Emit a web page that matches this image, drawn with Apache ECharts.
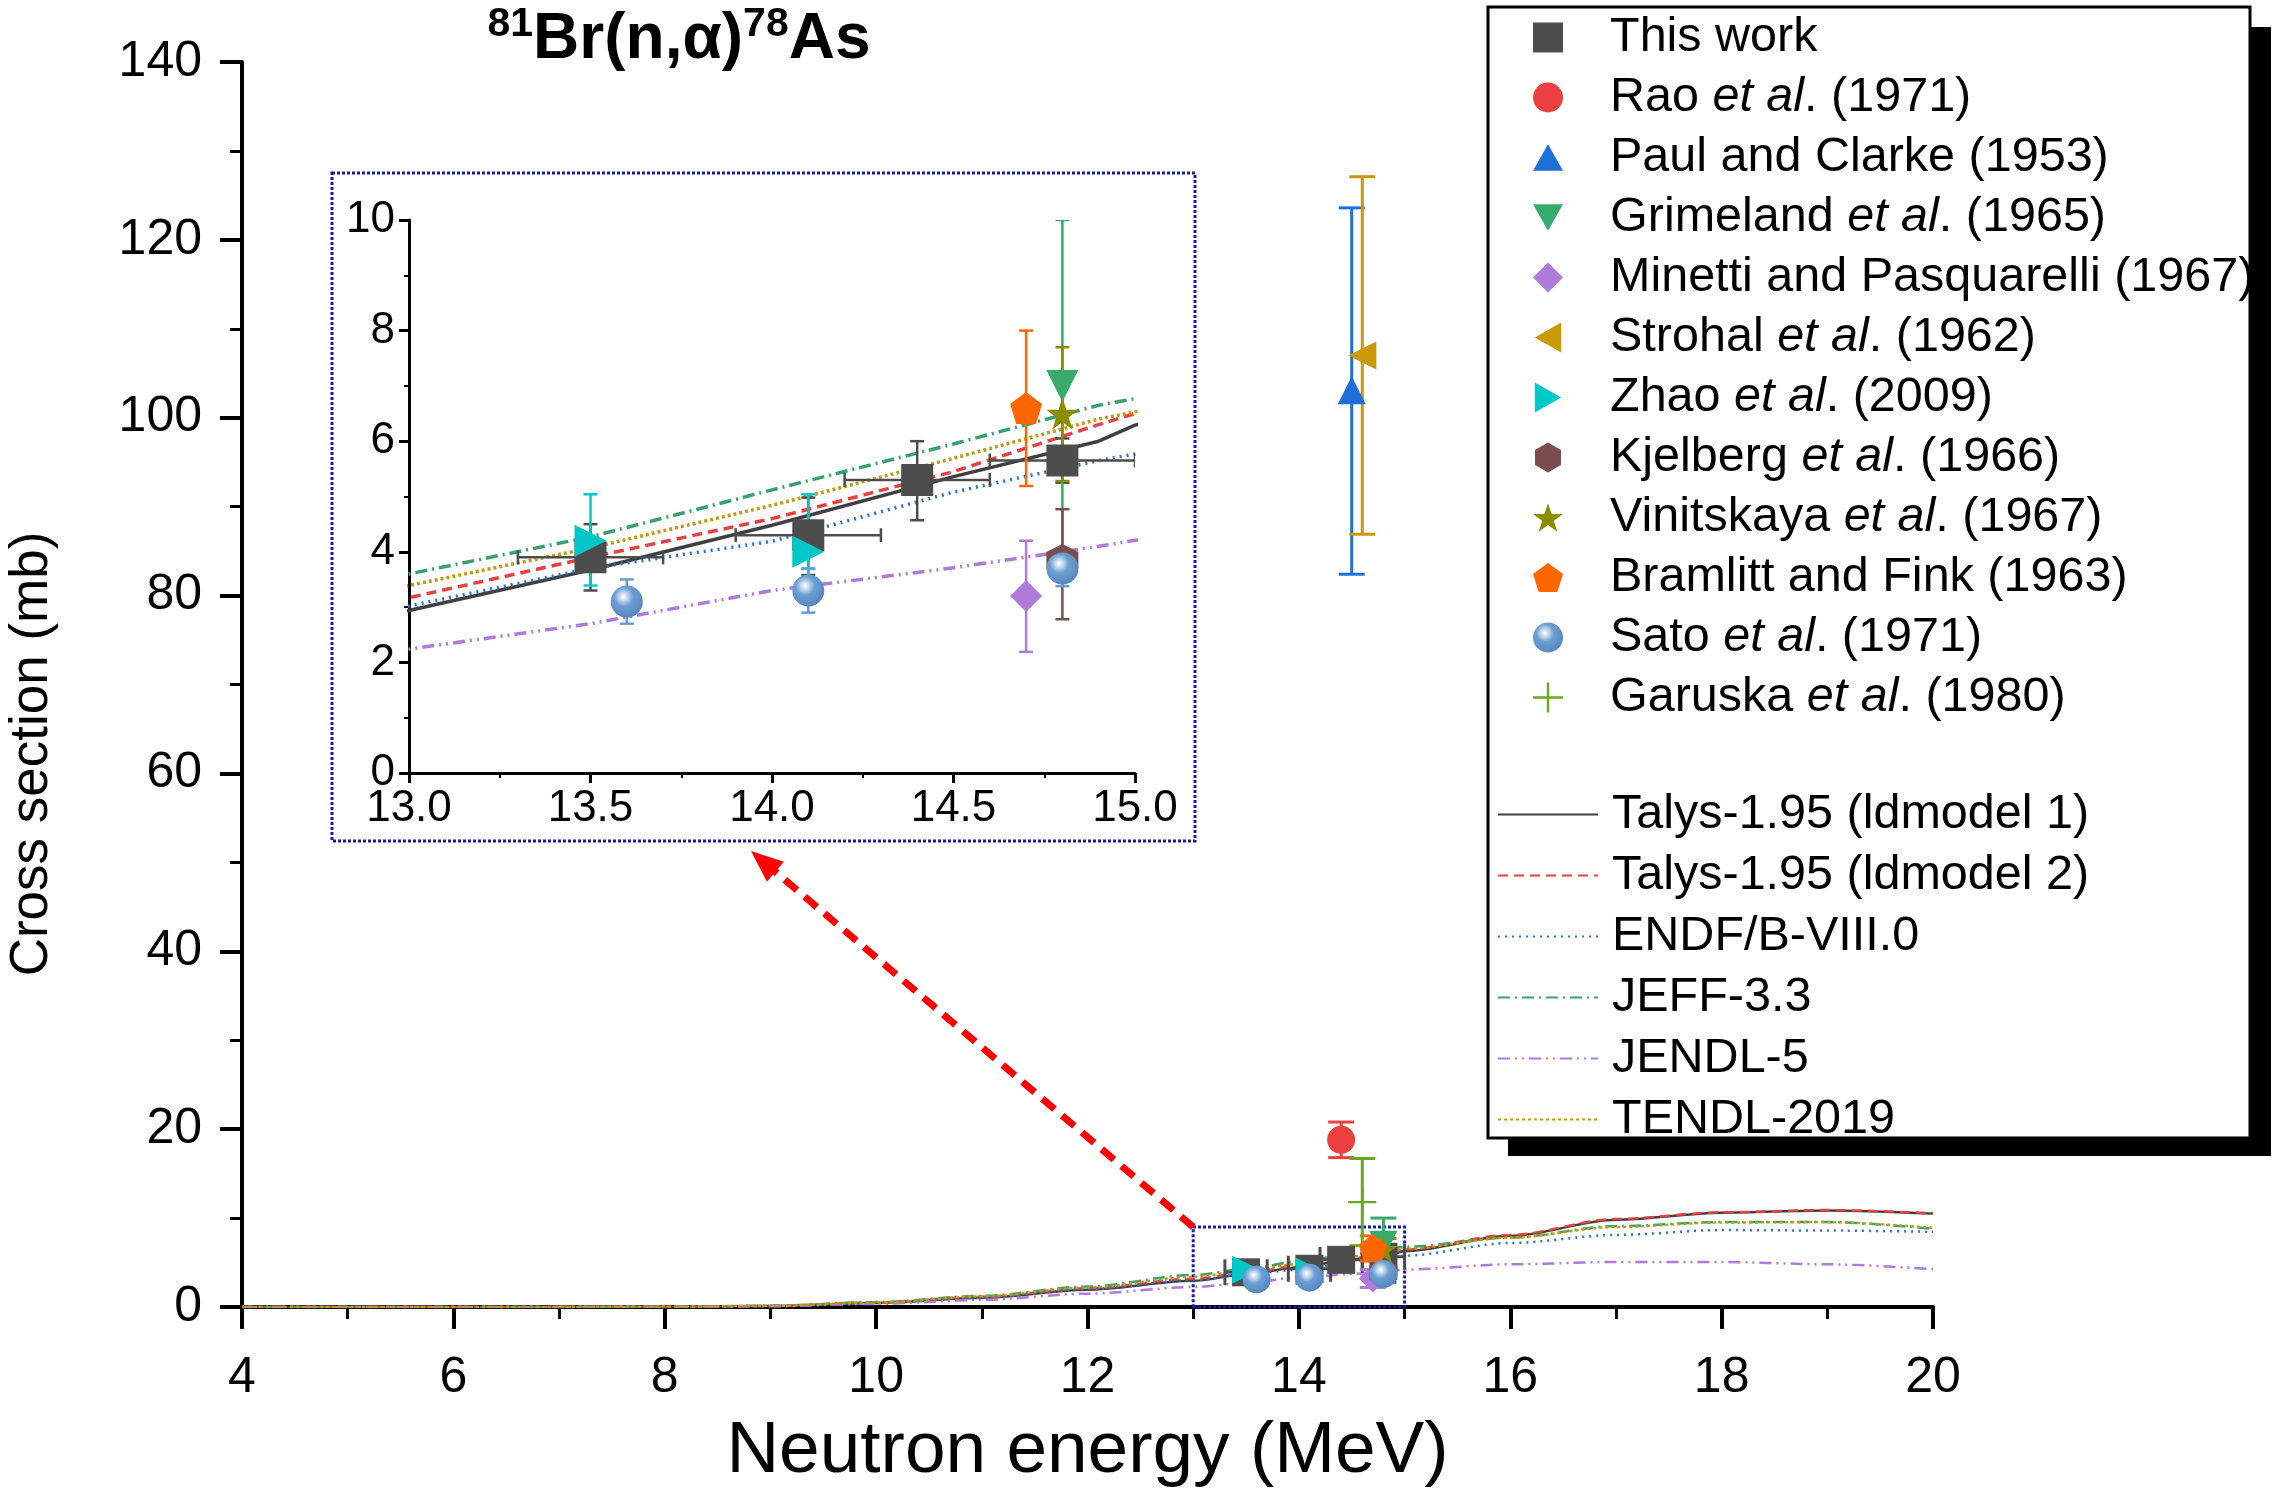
<!DOCTYPE html>
<html>
<head>
<meta charset="utf-8">
<title>81Br(n,a)78As</title>
<script src="https://cdn.jsdelivr.net/npm/echarts@6/dist/echarts.min.js"></script>
<style>
  html, body { margin: 0; padding: 0; background: #fff; }
  #main { width: 2274px; height: 1495px; }
</style>
</head>
<body>
<div id="main"></div>
<script>
// evaluated curves (mb) on a common energy grid (MeV)
var energy = [4, 6, 8, 9, 10, 11, 12, 13, 13.5, 14, 14.5, 14.9, 15, 16, 17, 18, 19, 20];
var talys1 = [0, 0, 0.02, 0.1, 0.45, 1.05, 1.95, 2.94, 3.67, 4.48, 5.36, 6.0, 6.29, 8.0, 9.8, 10.6, 10.85, 10.5];
var talys2 = [0, 0, 0.02, 0.12, 0.5, 1.15, 2.1, 3.17, 3.9, 4.6, 5.45, 6.3, 6.5, 8.1, 9.9, 10.65, 10.9, 10.55];
var endf = [0, 0, 0.02, 0.1, 0.45, 1.05, 2.0, 3.02, 3.7, 4.19, 5.08, 5.65, 5.77, 7.2, 8.1, 8.65, 8.6, 8.45];
var jeff = [0, 0, 0.03, 0.15, 0.55, 1.25, 2.3, 3.6, 4.27, 5.12, 5.95, 6.65, 6.77, 7.8, 9.1, 9.55, 9.55, 8.8];
var jendl = [0, 0, 0.02, 0.08, 0.35, 0.8, 1.5, 2.24, 2.7, 3.3, 3.71, 4.1, 4.21, 4.8, 5.07, 5.07, 4.8, 4.26];
var tendl = [0, 0, 0.03, 0.13, 0.5, 1.2, 2.2, 3.39, 4.07, 4.84, 5.69, 6.4, 6.53, 7.8, 9.0, 9.5, 9.55, 8.9];

// measured points: energy, cross section, error low/high
var workE = [13.5, 14.1, 14.4, 14.8];
var workXS = [3.9, 4.3, 5.3, 5.65];
var workLow = [3.3, 3.58, 4.57, 5.25];
var workHigh = [4.5, 4.98, 6.0, 6.05];
var workELow = [13.3, 13.9, 14.2, 14.6];
var workEHigh = [13.7, 14.3, 14.6, 15.0];

var raoE = [14.4], raoXS = [18.8], raoLow = [16.8], raoHigh = [20.8];
var paulE = [14.5], paulXS = [103.1], paulLow = [82.4], paulHigh = [123.6];
var grimE = [14.8], grimXS = [7.0], grimLow = [4.0], grimHigh = [10.0];
var minettiE = [14.7], minettiXS = [3.2], minettiLow = [2.19], minettiHigh = [4.2];
var strohalE = [14.6], strohalXS = [107], strohalLow = [86.9], strohalHigh = [127.1];
var zhaoE = [13.5, 14.1], zhaoXS = [4.2, 4.0], zhaoLow = [3.39, 3.69], zhaoHigh = [5.04, 5.04];
var kjelE = [14.8], kjelXS = [3.85], kjelLow = [2.78], kjelHigh = [4.77];
var viniE = [14.8], viniXS = [6.5], viniLow = [5.28], viniHigh = [7.7];
var bramE = [14.7], bramXS = [6.6], bramLow = [5.19], bramHigh = [8.0];
var satoE = [13.6, 14.1, 14.8], satoXS = [3.1, 3.3, 3.7], satoLow = [2.7, 2.9, 3.38], satoHigh = [3.5, 3.7, 3.98];
var garE = [14.6], garXS = [11.8], garLow = [6.9], garHigh = [16.7];

var font = 'Liberation Sans, Arial, sans-serif';
var chart = echarts.init(document.getElementById('main'));

var sphere = new echarts.graphic.RadialGradient(0.4, 0.35, 0.65, [
	{ offset: 0, color: '#ffffff' },
	{ offset: 0.2, color: '#c4d8ee' },
	{ offset: 0.45, color: '#6e9fd3' },
	{ offset: 1, color: '#5688c0' }
]);

// marker shapes
var triUp = 'path://M50,0 L100,88 L0,88 Z';
var triDown = 'path://M0,0 L100,0 L50,88 Z';
var triLeft = 'path://M0,50 L88,0 L88,100 Z';
var triRight = 'path://M0,0 L88,50 L0,100 Z';
var hexagon = 'path://M50,0 L93.3,25 L93.3,75 L50,100 L6.7,75 L6.7,25 Z';
var star = 'path://M50,0 L61.8,35.1 L98.1,35.1 L68.8,56.7 L79.9,91.9 L50,70 L20.1,91.9 L31.2,56.7 L1.9,35.1 L38.2,35.1 Z';
var pentagon = 'path://M50,0 L97.6,34.5 L79.4,92 L20.6,92 L2.4,34.5 Z';
var plus = 'path://M46,0 L54,0 L54,46 L100,46 L100,54 L54,54 L54,100 L46,100 L46,54 L0,54 L0,46 L46,46 Z';

var points = [
	{ name: 'This work', e: workE, xs: workXS, lo: workLow, hi: workHigh, elo: workELow, ehi: workEHigh, color: '#4d4d4d', symbol: 'rect' },
	{ name: 'Rao et al. (1971)', e: raoE, xs: raoXS, lo: raoLow, hi: raoHigh, color: '#ec4040', symbol: 'circle' },
	{ name: 'Paul and Clarke (1953)', e: paulE, xs: paulXS, lo: paulLow, hi: paulHigh, color: '#1f6fdb', symbol: triUp },
	{ name: 'Grimeland et al. (1965)', e: grimE, xs: grimXS, lo: grimLow, hi: grimHigh, color: '#37ab6b', symbol: triDown },
	{ name: 'Minetti and Pasquarelli (1967)', e: minettiE, xs: minettiXS, lo: minettiLow, hi: minettiHigh, color: '#b07ad9', symbol: 'diamond' },
	{ name: 'Strohal et al. (1962)', e: strohalE, xs: strohalXS, lo: strohalLow, hi: strohalHigh, color: '#c99a06', symbol: triLeft },
	{ name: 'Zhao et al. (2009)', e: zhaoE, xs: zhaoXS, lo: zhaoLow, hi: zhaoHigh, color: '#00c8c8', symbol: triRight },
	{ name: 'Kjelberg et al. (1966)', e: kjelE, xs: kjelXS, lo: kjelLow, hi: kjelHigh, color: '#7b4e4e', symbol: hexagon },
	{ name: 'Vinitskaya et al. (1967)', e: viniE, xs: viniXS, lo: viniLow, hi: viniHigh, color: '#8c8c00', symbol: star },
	{ name: 'Bramlitt and Fink (1963)', e: bramE, xs: bramXS, lo: bramLow, hi: bramHigh, color: '#ff6600', symbol: pentagon },
	{ name: 'Sato et al. (1971)', e: satoE, xs: satoXS, lo: satoLow, hi: satoHigh, color: sphere, bar: '#6a9bd0', symbol: 'circle' },
	{ name: 'Garuska et al. (1980)', e: garE, xs: garXS, lo: garLow, hi: garHigh, color: '#6aa81c', symbol: plus }
];

var curves = [
	{ name: 'Talys-1.95 (ldmodel 1)', data: talys1, color: '#404040', type: 'solid' },
	{ name: 'Talys-1.95 (ldmodel 2)', data: talys2, color: '#e8413f', type: [10, 6] },
	{ name: 'ENDF/B-VIII.0', data: endf, color: '#2b6fd6', type: [2, 5] },
	{ name: 'JEFF-3.3', data: jeff, color: '#37a36a', type: [12, 5, 2, 5] },
	{ name: 'JENDL-5', data: jendl, color: '#b07ad9', type: [12, 5, 2, 5, 2, 5] },
	{ name: 'TENDL-2019', data: tendl, color: '#c49a10', type: [3, 3] }
];

function errItem(cap, lw) {
	return function (params, api) {
		var x = api.value(0), lo = api.value(1), hi = api.value(2);
		var elo = api.value(3), ehi = api.value(4), y = api.value(5);
		var c = api.visual('color');
		var st = { stroke: c, lineWidth: lw };
		var a = api.coord([x, lo]), b = api.coord([x, hi]);
		var kids = [
			{ type: 'line', shape: { x1: a[0], y1: a[1], x2: b[0], y2: b[1] }, style: st },
			{ type: 'line', shape: { x1: a[0] - cap, y1: a[1], x2: a[0] + cap, y2: a[1] }, style: st },
			{ type: 'line', shape: { x1: b[0] - cap, y1: b[1], x2: b[0] + cap, y2: b[1] }, style: st }
		];
		if (ehi > elo) {
			var l = api.coord([elo, y]), r = api.coord([ehi, y]);
			kids.push({ type: 'line', shape: { x1: l[0], y1: l[1], x2: r[0], y2: r[1] }, style: st });
			kids.push({ type: 'line', shape: { x1: l[0], y1: l[1] - cap, x2: l[0], y2: l[1] + cap }, style: st });
			kids.push({ type: 'line', shape: { x1: r[0], y1: r[1] - cap, x2: r[0], y2: r[1] + cap }, style: st });
		}
		return { type: 'group', children: kids };
	};
}

var series = [];
// main panel and inset panel
[0, 1].forEach(function (g) {
	curves.forEach(function (c) {
		series.push({
			name: c.name, type: 'line', xAxisIndex: g, yAxisIndex: g,
			data: energy.map(function (e, i) { return [e, c.data[i]]; }),
			showSymbol: false, symbol: 'none', smooth: g === 0 ? 0.3 : false, smoothMonotone: 'x',
			lineStyle: { color: c.color, width: g === 0 ? 2.5 : 3.5, type: c.type },
			itemStyle: { color: c.color }, z: 2, silent: true
		});
	});
});
[0, 1].forEach(function (g) {
	points.forEach(function (p) {
		var idx = p.e.map(function (e, i) { return i; }).filter(function (i) {
			return g === 0 || (p.xs[i] <= 10 && p.lo[i] >= 0 && p.hi[i] <= 10.01);
		});
		if (!idx.length) return;
		series.push({
			name: p.name, type: 'scatter', xAxisIndex: g, yAxisIndex: g,
			data: idx.map(function (i) { return [p.e[i], p.xs[i]]; }),
			symbol: p.symbol, symbolSize: g === 0 ? 28 : 32,
			itemStyle: { color: p.color, opacity: 1 }, z: 5, silent: true
		});
		series.push({
			type: 'custom', xAxisIndex: g, yAxisIndex: g, clip: g === 1,
			renderItem: errItem(g === 0 ? 13 : 7, g === 0 ? 3 : 2.5),
			itemStyle: { color: p.bar || p.color },
			encode: { x: 0, y: [1, 2] },
			data: idx.map(function (i) {
				return [p.e[i], p.lo[i], p.hi[i], p.elo ? p.elo[i] : 0, p.ehi ? p.ehi[i] : 0, p.xs[i]];
			}),
			z: 4, silent: true
		});
	});
});
// zoom box in the main panel
series[0].markArea = {
	silent: true,
	itemStyle: { color: 'rgba(0,0,0,0)', borderColor: '#1a1aa8', borderWidth: 3, borderType: [3, 2] },
	data: [[{ coord: [13, 0] }, { coord: [15, 9] }]]
};

function legendFmt(name) {
	var k = name.indexOf('et al');
	if (k < 0) return '{n|' + name + '}';
	return '{n|' + name.slice(0, k) + '}{i|et al}{n|' + name.slice(k + 5) + '}';
}
function legText(padLeft) {
	return {
		color: '#000', fontFamily: font, fontSize: 48.5, padding: [0, 0, 0, padLeft],
		rich: {
			n: { fontFamily: font, fontSize: 48.5, color: '#000' },
			i: { fontFamily: font, fontSize: 48.5, color: '#000', fontStyle: 'italic' }
		}
	};
}

var axisBase = {
	type: 'value',
	axisLine: { show: true, onZero: false, lineStyle: { color: '#000', width: 4 } },
	axisTick: { show: true, length: 22, lineStyle: { color: '#000', width: 4 } },
	minorTick: { show: true, splitNumber: 2, length: 12, lineStyle: { color: '#000', width: 3 } },
	splitLine: { show: false },
	axisLabel: { color: '#000', fontFamily: font, fontSize: 50 }
};
function ax(extra) { return Object.assign({}, JSON.parse(JSON.stringify(axisBase)), extra); }
var insetLine = { show: true, onZero: false, lineStyle: { color: '#000', width: 3 } };
var insetTick = { show: true, length: 10, lineStyle: { color: '#000', width: 3 } };
var insetMinor = { show: true, splitNumber: 2, length: 5, lineStyle: { color: '#000', width: 2 } };

var option = {
	backgroundColor: '#fff',
	animation: false,
	grid: [
		{ left: 242, top: 62, width: 1691, height: 1245 },
		{ left: 409, top: 220, width: 726, height: 553 }
	],
	xAxis: [
		ax({ gridIndex: 0, min: 4, max: 20, interval: 2,
			axisLabel: { color: '#000', fontFamily: font, fontSize: 50, margin: 46 },
			name: 'Neutron energy (MeV)', nameLocation: 'middle', nameGap: 108,
			nameTextStyle: { color: '#000', fontFamily: font, fontSize: 73 } }),
		ax({ gridIndex: 1, min: 13, max: 15, interval: 0.5,
			axisLine: insetLine, axisTick: insetTick, minorTick: insetMinor,
			axisLabel: { color: '#000', fontFamily: font, fontSize: 44, margin: 14,
				formatter: function (v) { return v.toFixed(1); } } })
	],
	yAxis: [
		ax({ gridIndex: 0, min: 0, max: 140, interval: 20,
			axisLabel: { color: '#000', fontFamily: font, fontSize: 50, margin: 40 } }),
		ax({ gridIndex: 1, min: 0, max: 10, interval: 2,
			axisLine: insetLine, axisTick: insetTick, minorTick: insetMinor,
			axisLabel: { color: '#000', fontFamily: font, fontSize: 44, margin: 14 } })
	],
	legend: [
		{
			orient: 'vertical', left: 1528, top: 8, itemWidth: 30, itemHeight: 30, itemGap: 11,
			symbolKeepAspect: true,
			data: points.map(function (p) { return p.name; }),
			formatter: legendFmt, textStyle: legText(42), selectedMode: false, z: 10
		},
		{
			orient: 'vertical', left: 1492, top: 785, itemWidth: 100, itemHeight: 28, itemGap: 12,
			itemStyle: { opacity: 0 },
			data: curves.map(function (c) { return c.name; }),
			textStyle: legText(9), selectedMode: false, z: 10
		}
	],
	series: series
};
chart.setOption(option);

// decorations: titles, inset frame, legend box with shadow, arrow
var s = chart.convertToPixel({ gridIndex: 0 }, [13, 9]);
var t = [751, 851];
var dx = t[0] - s[0], dy = t[1] - s[1], len = Math.sqrt(dx * dx + dy * dy);
var ux = dx / len, uy = dy / len, head = 32, half = 13;
var bx = t[0] - ux * head, by = t[1] - uy * head;

chart.setOption({
	graphic: [
		{ type: 'rect', z: 0, shape: { x: 1508, y: 27, width: 763, height: 1129 }, style: { fill: '#000' } },
		{ type: 'rect', z: 1, shape: { x: 1488, y: 7, width: 762, height: 1131 }, style: { fill: '#fff', stroke: '#000', lineWidth: 3 } },
		{ type: 'rect', z: 1, shape: { x: 332, y: 173, width: 863, height: 668 }, style: { fill: 'none', stroke: '#1a1aa8', lineWidth: 3, lineDash: [3, 2] } },
		{ type: 'line', z: 1, shape: { x1: s[0], y1: s[1], x2: bx + ux * 4, y2: by + uy * 4 }, style: { stroke: '#ff0000', lineWidth: 7, lineDash: [16, 10] } },
		{ type: 'polygon', z: 1, shape: { points: [[t[0], t[1]], [bx - uy * half, by + ux * half], [bx + uy * half, by - ux * half]] }, style: { fill: '#ff0000' } },
		{
			type: 'text', z: 3, x: 32, y: 754, rotation: Math.PI / 2,
			style: { text: 'Cross section (mb)', align: 'center', verticalAlign: 'middle', fill: '#000', fontFamily: font, fontSize: 53 }
		},
		{
			type: 'text', z: 3, x: 679, y: 40,
			style: {
				text: '{sup|81}{b|Br(n,α)}{sup|78}{b|As}',
				align: 'center', verticalAlign: 'middle', fill: '#000',
				rich: {
					b: { fontFamily: font, fontSize: 64, fontWeight: 'bold', lineHeight: 72, fill: '#000' },
					sup: { fontFamily: font, fontSize: 41, fontWeight: 'bold', lineHeight: 72, verticalAlign: 'top', fill: '#000' }
				}
			}
		}
	]
});
</script>
</body>
</html>
